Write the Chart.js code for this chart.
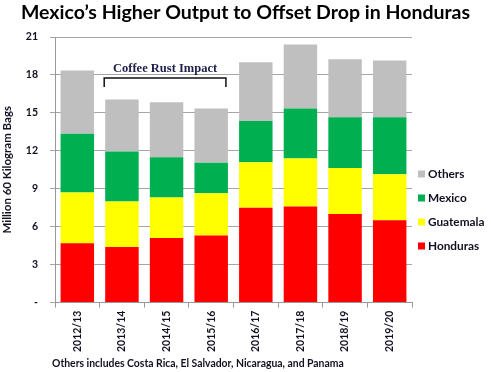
<!DOCTYPE html>
<html>
<head>
<meta charset="utf-8">
<script src="https://cdn.jsdelivr.net/npm/chart.js@4"></script>
<style>
  body { margin: 0; background: #fff; }
  #wrap { width: 491px; height: 372px; }
</style>
</head>
<body>
<div id="wrap"><canvas id="coffee-chart" width="491" height="372"></canvas></div>
<script>
const years = ['2012/13', '2013/14', '2014/15', '2015/16', '2016/17', '2017/18', '2018/19', '2019/20'];
const honduras = [4.7, 4.4, 5.1, 5.3, 7.5, 7.6, 7.0, 6.5];
const guatemala = [4.0, 3.6, 3.2, 3.35, 3.6, 3.8, 3.65, 3.65];
const mexico = [4.65, 3.95, 3.2, 2.4, 3.25, 3.95, 4.0, 4.5];
const others = [5.0, 4.1, 4.35, 4.3, 4.65, 5.05, 4.6, 4.5];
const yTicks = [0, 3, 6, 9, 12, 15, 18, 21];
const chartTitle = 'Mexico\u2019s Higher Output to Offset Drop in Honduras';
const footnote = 'Others includes Costa Rica, El Salvador, Nicaragua, and Panama';
const rustLabel = 'Coffee Rust Impact';
const rustFrom = 1, rustTo = 3;

const FONT = 'Lato, "Open Sans", sans-serif';
const DARK = '#111122';

// bracket + label over the coffee rust years
const rustPlugin = {
    id: 'rust',
    afterDatasetsDraw(chart) {
        const ctx = chart.ctx;
        const x = chart.scales.x;
        const half = x.getPixelForValue(1) - x.getPixelForValue(0);
        const bw = half * 0.75 / 2;
        const x1 = x.getPixelForValue(rustFrom) - bw - 1;
        const x2 = x.getPixelForValue(rustTo) + bw - 2;
        const yTop = 78, yBot = 87;
        ctx.save();
        ctx.strokeStyle = '#111';
        ctx.lineWidth = 1.5;
        ctx.beginPath();
        ctx.moveTo(x1, yBot);
        ctx.lineTo(x1, yTop);
        ctx.lineTo(x2, yTop);
        ctx.lineTo(x2, yBot);
        ctx.stroke();
        ctx.fillStyle = '#1c1f4a';
        ctx.font = 'bold 12.5px "Liberation Serif", "Times New Roman", serif';
        ctx.textAlign = 'center';
        ctx.textBaseline = 'middle';
        ctx.fillText(rustLabel, (x1 + x2) / 2, 69);
        ctx.restore();
    }
};

// title across the whole canvas, legend on the right, footnote
const sidePlugin = {
    id: 'side',
    afterDraw(chart) {
        const ctx = chart.ctx;
        const sets = chart.data.datasets;
        ctx.save();
        ctx.font = 'bold 19.5px ' + FONT;
        ctx.fillStyle = '#000';
        ctx.textAlign = 'center';
        ctx.textBaseline = 'middle';
        ctx.fillText(chartTitle, chart.width / 2, 13);

        ctx.font = 'bold 11.8px ' + FONT;
        ctx.textAlign = 'left';
        for (let i = sets.length - 1, row = 0; i >= 0; i--, row++) {
            const y = 174 + row * 24;
            ctx.fillStyle = sets[i].backgroundColor;
            ctx.fillRect(418, y - 3.5, 7, 7);
            ctx.fillStyle = DARK;
            ctx.fillText(sets[i].label, 428, y);
        }
        ctx.font = 'bold 10.4px ' + FONT;
        ctx.fillStyle = DARK;
        ctx.fillText(footnote, 52, 364);
        ctx.restore();
    }
};

const ctx = document.getElementById('coffee-chart').getContext('2d');
new Chart(ctx, {
    type: 'bar',
    data: {
        labels: years,
        datasets: [
            { label: 'Honduras', data: honduras, backgroundColor: '#ff0000' },
            { label: 'Guatemala', data: guatemala, backgroundColor: '#ffff00' },
            { label: 'Mexico', data: mexico, backgroundColor: '#00b050' },
            { label: 'Others', data: others, backgroundColor: '#bfbfbf' }
        ]
    },
    options: {
        responsive: false,
        animation: false,
        layout: { padding: { left: 0, right: 79, top: 37, bottom: 17 } },
        datasets: { bar: { categoryPercentage: 1, barPercentage: 0.75, borderWidth: 0 } },
        plugins: {
            legend: { display: false },
            tooltip: { enabled: false },
            title: { display: false }
        },
        scales: {
            x: {
                stacked: true,
                grid: { drawOnChartArea: false, color: '#999', tickLength: 5 },
                border: { color: '#999' },
                ticks: {
                    color: DARK,
                    minRotation: 90,
                    maxRotation: 90,
                    padding: 3,
                    font: { family: FONT, size: 10.5, weight: 'bold' }
                }
            },
            y: {
                stacked: true,
                min: 0,
                max: 21,
                afterBuildTicks(scale) {
                    scale.ticks = yTicks.map(v => ({ value: v }));
                },
                afterFit(scale) { scale.width = 55; },
                grid: { color: '#a6a6a6', tickLength: 5 },
                border: { color: '#999' },
                ticks: {
                    color: DARK,
                    padding: 12,
                    font: { family: FONT, size: 10.5, weight: 'bold' },
                    callback: v => v === 0 ? '-' : v
                },
                title: {
                    display: true,
                    text: 'Million 60 Kilogram Bags',
                    color: DARK,
                    padding: { top: 0, bottom: 0 },
                    font: { family: FONT, size: 11.5, weight: 'bold' }
                }
            }
        }
    },
    plugins: [rustPlugin, sidePlugin]
});
</script>
</body>
</html>
